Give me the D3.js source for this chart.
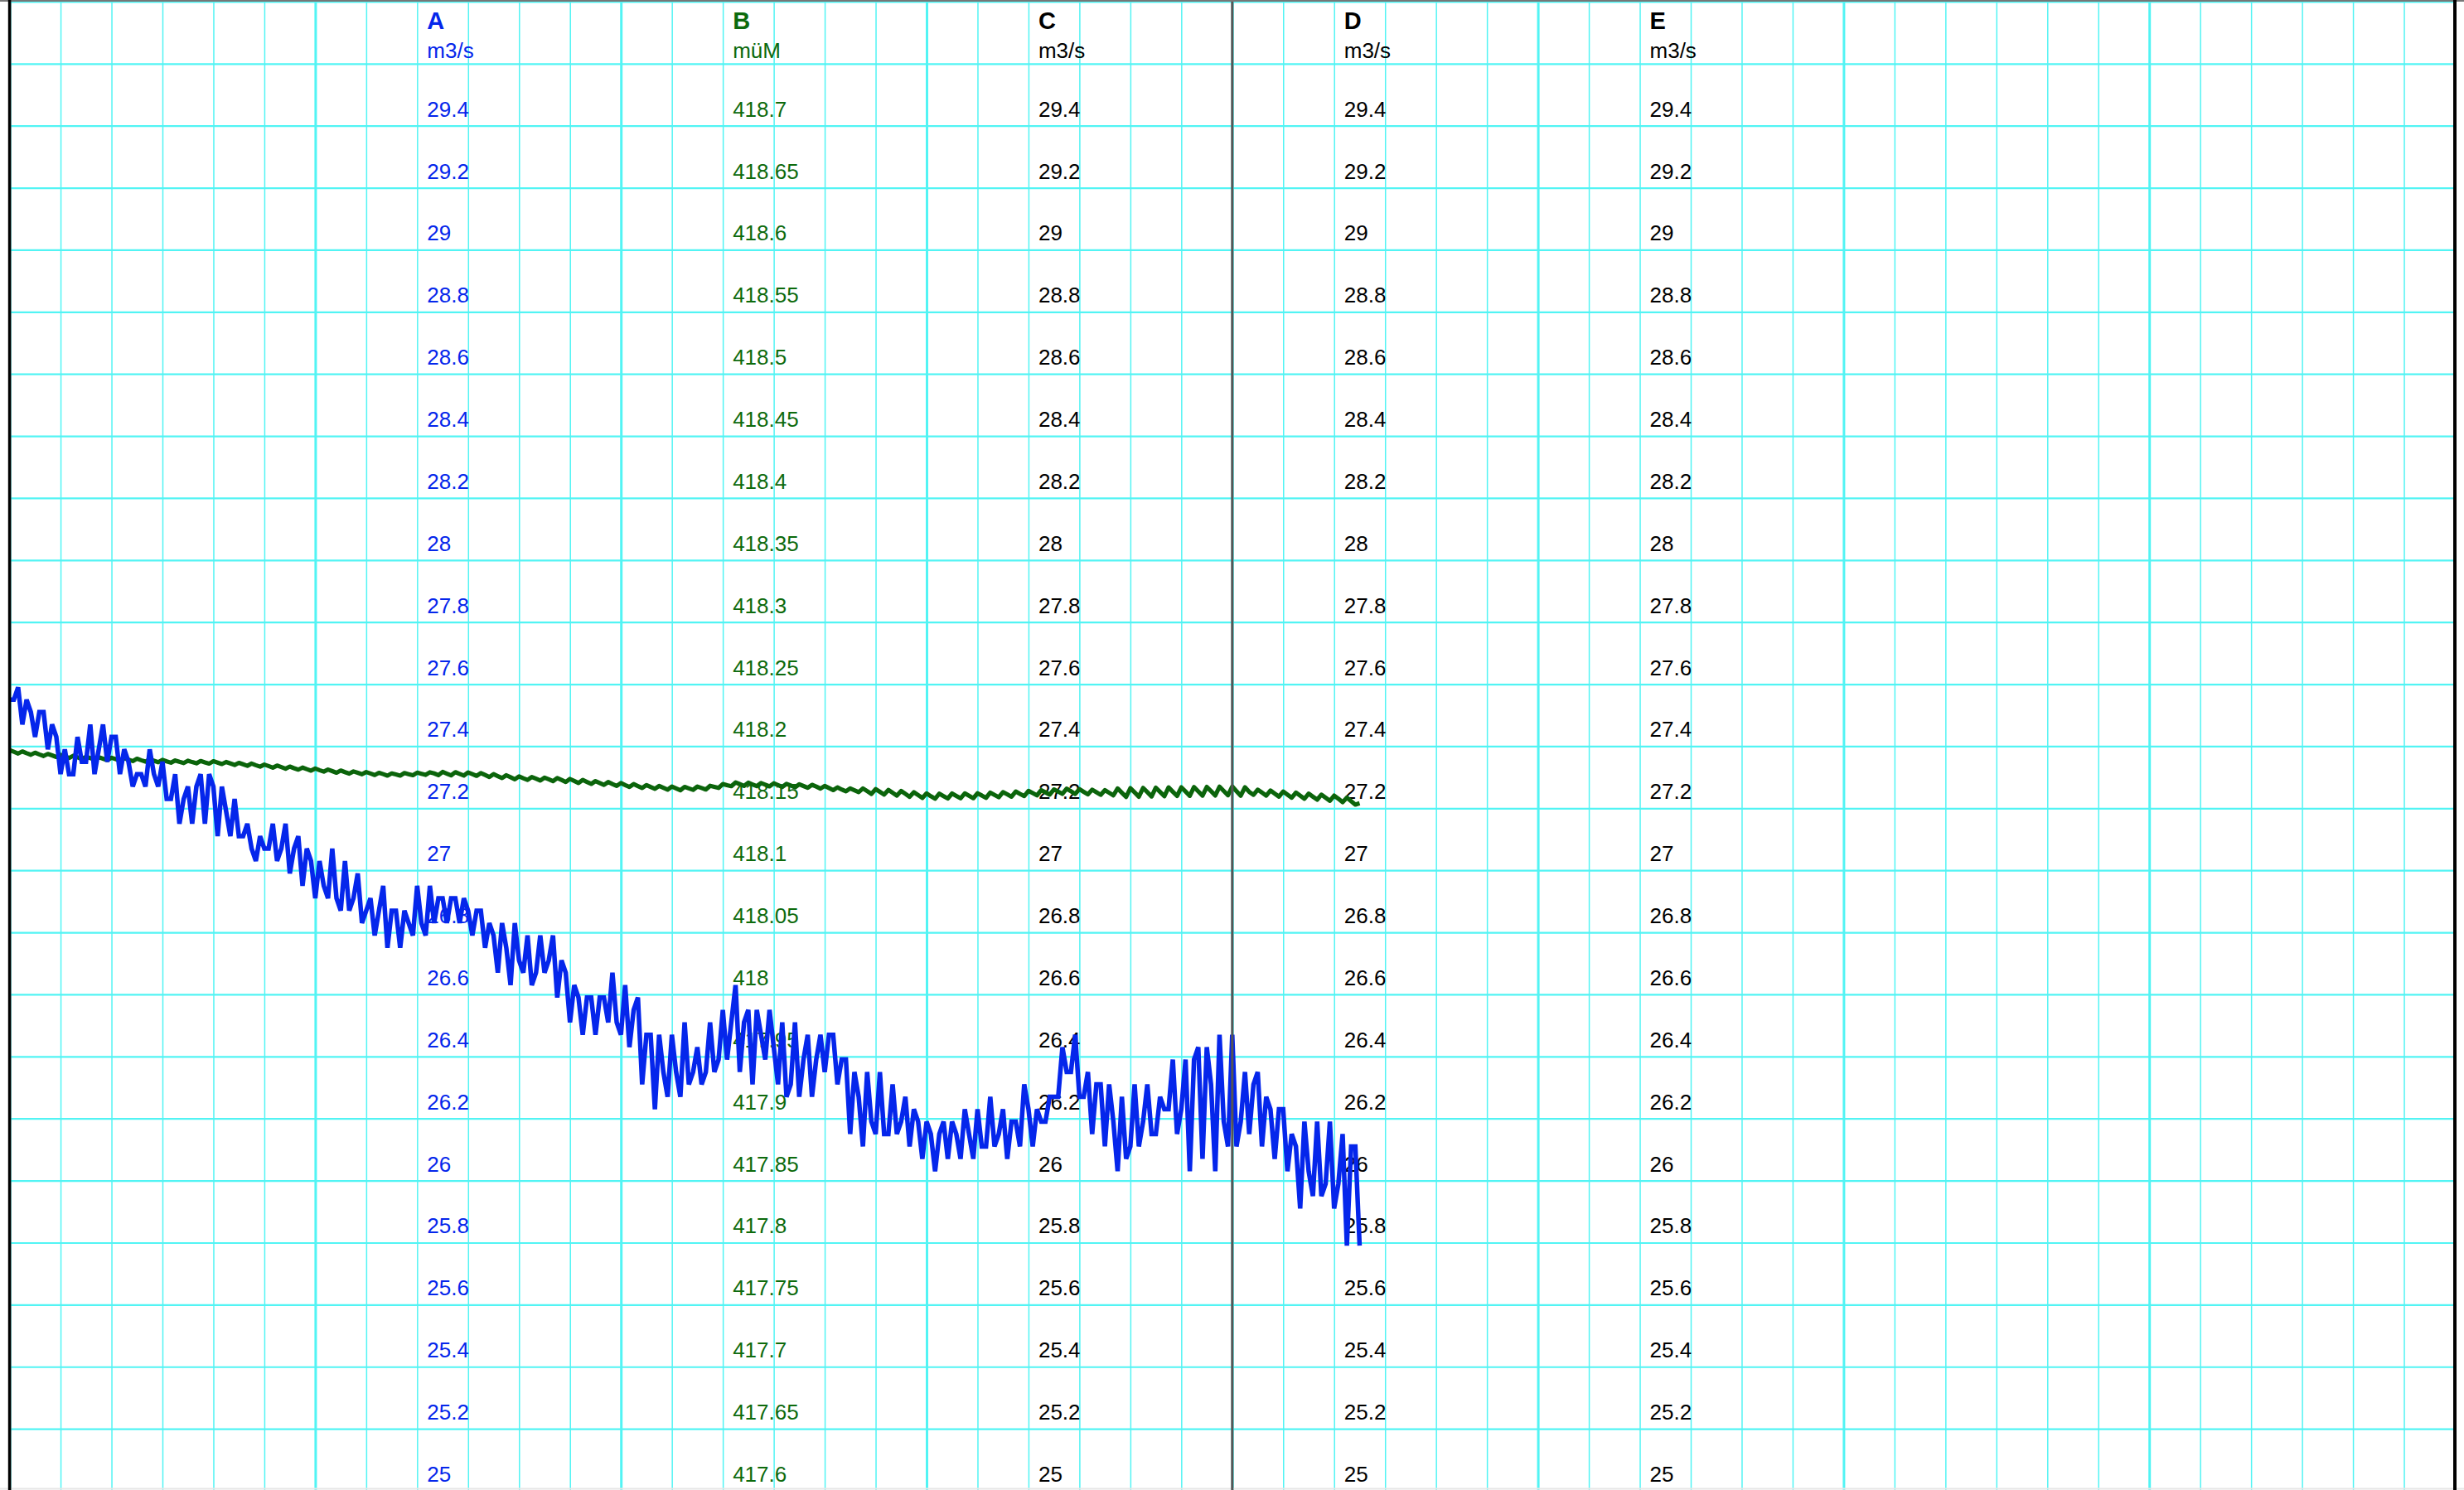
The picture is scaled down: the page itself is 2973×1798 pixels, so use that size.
<!DOCTYPE html>
<html>
<head>
<meta charset="utf-8">
<script src="https://cdn.jsdelivr.net/npm/d3@7"></script>
<style>
html,body{margin:0;padding:0;background:#fff;}
svg{display:block;}
</style>
</head>
<body>
<svg id="chart" width="2973" height="1798"></svg>
<script>
(function () {
// ---------- DATA ----------
const STEP_MINUTES = 5;          // sampling interval of both series
const SPAN_HOURS = 48;           // time span of the x axis
const NOW_HOUR = 24;             // dark vertical marker

// Series A (m3/s), one value every 5 minutes
const seriesA = [
27.55,27.55,27.59,27.47,27.55,27.51,27.43,27.51,27.51,27.39,
27.47,27.43,27.31,27.39,27.31,27.31,27.43,27.35,27.35,27.47,
27.31,27.39,27.47,27.35,27.43,27.43,27.31,27.39,27.35,27.27,
27.31,27.31,27.27,27.39,27.31,27.27,27.35,27.23,27.23,27.31,
27.15,27.23,27.27,27.15,27.27,27.31,27.15,27.31,27.27,27.11,
27.27,27.19,27.11,27.23,27.11,27.11,27.15,27.07,27.03,27.11,
27.07,27.07,27.15,27.03,27.07,27.15,26.99,27.07,27.11,26.95,
27.07,27.03,26.91,27.03,26.95,26.91,27.07,26.91,26.87,27.03,
26.87,26.91,26.99,26.83,26.87,26.91,26.79,26.87,26.95,26.75,
26.87,26.87,26.75,26.87,26.83,26.79,26.95,26.83,26.79,26.95,
26.83,26.91,26.91,26.83,26.91,26.91,26.83,26.91,26.87,26.79,
26.87,26.87,26.75,26.83,26.79,26.67,26.83,26.75,26.63,26.83,
26.71,26.67,26.79,26.63,26.67,26.79,26.67,26.71,26.79,26.59,
26.71,26.67,26.51,26.63,26.59,26.47,26.59,26.59,26.47,26.59,
26.59,26.51,26.67,26.51,26.47,26.63,26.43,26.55,26.59,26.31,
26.47,26.47,26.23,26.47,26.35,26.27,26.47,26.35,26.27,26.51,
26.31,26.35,26.43,26.31,26.35,26.51,26.35,26.39,26.55,26.39,
26.51,26.63,26.35,26.51,26.55,26.31,26.55,26.47,26.39,26.55,
26.43,26.31,26.51,26.27,26.31,26.51,26.27,26.39,26.47,26.27,
26.39,26.47,26.35,26.47,26.47,26.31,26.39,26.39,26.15,26.35,
26.27,26.11,26.35,26.19,26.15,26.35,26.15,26.15,26.31,26.15,
26.19,26.27,26.11,26.23,26.19,26.07,26.19,26.15,26.03,26.15,
26.19,26.07,26.19,26.15,26.07,26.23,26.15,26.07,26.23,26.11,
26.11,26.27,26.11,26.15,26.23,26.07,26.19,26.19,26.11,26.31,
26.23,26.11,26.23,26.19,26.19,26.27,26.27,26.27,26.43,26.35,
26.35,26.47,26.27,26.27,26.35,26.15,26.31,26.31,26.11,26.31,
26.19,26.03,26.27,26.07,26.11,26.31,26.11,26.19,26.31,26.15,
26.15,26.27,26.23,26.23,26.39,26.15,26.23,26.39,26.03,26.39,
26.43,26.07,26.43,26.31,26.03,26.47,26.19,26.11,26.47,26.11,
26.19,26.35,26.15,26.31,26.35,26.11,26.27,26.23,26.07,26.23,
26.23,26.03,26.15,26.11,25.91,26.19,26.03,25.95,26.19,25.95,
25.99,26.19,25.91,25.99,26.15,25.79,26.11,26.11,25.79
];

// Series B (müM), one value every 5 minutes
const seriesB = [
418.1968,418.1955,418.1941,418.1958,418.1944,418.1931,418.1948,418.1934,418.1921,418.1938,
418.1926,418.1913,418.1930,418.1918,418.1905,418.1923,418.1910,418.1897,418.1915,418.1904,
418.1892,418.1911,418.1900,418.1888,418.1907,418.1896,418.1884,418.1903,418.1892,418.1880,
418.1899,418.1887,418.1876,418.1894,418.1883,418.1871,418.1890,418.1878,418.1867,418.1885,
418.1874,418.1864,418.1883,418.1872,418.1862,418.1881,418.1870,418.1860,418.1879,418.1868,
418.1856,418.1873,418.1861,418.1849,418.1866,418.1854,418.1842,418.1860,418.1847,418.1835,
418.1852,418.1840,418.1827,418.1844,418.1832,418.1819,418.1836,418.1823,418.1811,418.1828,
418.1815,418.1803,418.1820,418.1807,418.1795,418.1812,418.1799,418.1786,418.1804,418.1791,
418.1779,418.1797,418.1786,418.1774,418.1792,418.1780,418.1768,418.1786,418.1775,418.1763,
418.1781,418.1772,418.1763,418.1784,418.1775,418.1766,418.1787,418.1778,418.1769,418.1790,
418.1781,418.1767,418.1793,418.1779,418.1765,418.1791,418.1777,418.1763,418.1789,418.1775,
418.1761,418.1784,418.1768,418.1752,418.1775,418.1759,418.1743,418.1766,418.1750,418.1734,
418.1757,418.1742,418.1728,418.1752,418.1738,418.1723,418.1747,418.1733,418.1718,418.1743,
418.1728,418.1712,418.1736,418.1720,418.1704,418.1728,418.1712,418.1696,418.1719,418.1704,
418.1688,418.1711,418.1695,418.1680,418.1703,418.1687,418.1672,418.1695,418.1679,418.1663,
418.1687,418.1671,418.1656,418.1680,418.1665,418.1650,418.1675,418.1660,418.1645,418.1672,
418.1660,418.1648,418.1675,418.1663,418.1651,418.1681,418.1673,418.1664,418.1695,418.1686,
418.1678,418.1708,418.1694,418.1680,418.1706,418.1692,418.1678,418.1703,418.1690,418.1676,
418.1701,418.1687,418.1672,418.1697,418.1683,418.1668,418.1693,418.1679,418.1665,418.1689,
418.1675,418.1658,418.1680,418.1663,418.1646,418.1668,418.1651,418.1636,418.1660,418.1645,
418.1630,418.1660,418.1638,418.1616,418.1654,418.1632,418.1610,418.1648,418.1625,418.1602,
418.1639,418.1616,418.1592,418.1629,418.1606,418.1583,418.1620,418.1597,418.1577,418.1618,
418.1598,418.1579,418.1619,418.1599,418.1580,418.1620,418.1600,418.1581,418.1621,418.1603,
418.1584,418.1626,418.1607,418.1589,418.1630,418.1612,418.1593,418.1635,418.1616,418.1598,
418.1640,418.1622,418.1604,418.1646,418.1628,418.1610,418.1652,418.1634,418.1616,418.1658,
418.1637,418.1615,418.1654,418.1633,418.1612,418.1650,418.1629,418.1608,418.1646,418.1625,
418.1604,418.1660,418.1625,418.1591,418.1662,418.1628,418.1593,418.1664,418.1630,418.1595,
418.1666,418.1632,418.1597,418.1668,418.1633,418.1599,418.1669,418.1635,418.1600,418.1671,
418.1636,418.1602,418.1672,418.1638,418.1603,418.1674,418.1639,418.1605,418.1675,418.1638,
418.1601,418.1669,418.1632,418.1608,418.1650,418.1626,418.1602,418.1643,418.1618,418.1594,
418.1635,418.1610,418.1585,418.1626,418.1602,418.1577,418.1618,418.1593,418.1569,418.1610,
418.1585,418.1560,418.1602,418.1577,418.1549,418.1586,418.1558,418.1529,418.1540
];

// Axis headers
const axisNames = ["A", "B", "C", "D", "E"];
const axisUnits = ["m3/s", "müM", "m3/s", "m3/s", "m3/s"];
const axisHours = [8, 14, 20, 26, 32];

// Tick labels
const flowTickLabels = ["29.4","29.2","29","28.8","28.6","28.4","28.2","28","27.8","27.6","27.4","27.2",
  "27","26.8","26.6","26.4","26.2","26","25.8","25.6","25.4","25.2","25"];
const levelTickLabels = ["418.7","418.65","418.6","418.55","418.5","418.45","418.4","418.35","418.3","418.25","418.2","418.15",
  "418.1","418.05","418","417.95","417.9","417.85","417.8","417.75","417.7","417.65","417.6"];

// ---------- STYLE / LAYOUT ----------
const W = 2973, H = 1798;
const pLeft = 11.6, pRight = 2962, pTop = 1.9, pBottom = 1799;
const gridColor = "#52f4f4";
const blue = "#0526eb", green = "#0b640b";
const axisColors = [blue, "#0d6a0d", "#000", "#000", "#000"];
const FONT = "'Liberation Sans', Arial, Helvetica, sans-serif";

const svg = d3.select("#chart");
svg.append("rect").attr("width", W).attr("height", H).attr("fill", "#fff");

const x = d3.scaleLinear().domain([0, SPAN_HOURS]).range([pLeft, pRight]);
const yFlow = d3.scaleLinear().domain([25, 29.8]).range([pBottom, pTop]);
const yLevel = d3.scaleLinear().domain([417.6, 418.8]).range([pBottom, pTop]);

// horizontal grid
const hGrid = svg.append("g")
  .attr("transform", `translate(${pLeft},0)`)
  .call(d3.axisLeft(yFlow).ticks(24).tickSize(-(pRight - pLeft)).tickFormat(""));
hGrid.select(".domain").remove();
hGrid.selectAll(".tick line").attr("stroke", gridColor).attr("stroke-width", 2.2);

// vertical grid
const hours = d3.range(0, SPAN_HOURS + 1);
const vGrid = svg.append("g")
  .attr("transform", `translate(0,${pBottom})`)
  .call(d3.axisBottom(x).tickValues(hours).tickSize(-(pBottom - pTop)).tickFormat(""));
vGrid.select(".domain").remove();
vGrid.selectAll(".tick line")
  .attr("stroke", gridColor)
  .attr("stroke-width", d => (d % 6 === 0 ? 3 : 1.5));

// faint bottom line
svg.append("line").attr("x1", 0).attr("x2", W).attr("y1", H - 1.5).attr("y2", H - 1.5)
  .attr("stroke", "#e6e6e6").attr("stroke-width", 2);

// y axes labels (value scales)
axisNames.forEach((name, k) => {
  const isLevel = k === 1;
  const labels = isLevel ? levelTickLabels : flowTickLabels;
  const scale = isLevel ? yLevel : yFlow;
  const ax0 = x(axisHours[k]);
  const g = svg.append("g")
    .attr("transform", `translate(${ax0},0)`)
    .call(d3.axisRight(scale)
      .tickValues(labels.map(Number))
      .tickSize(0).tickPadding(12)
      .tickFormat((d, i) => labels[i]));
  g.select(".domain").remove();
  g.attr("font-family", null).attr("font-size", null);
  g.selectAll(".tick text")
    .attr("dy", null)
    .attr("y", -11.5)
    .attr("fill", axisColors[k])
    .style("font-family", FONT)
    .style("font-size", "26px");

  svg.append("text")
    .attr("x", ax0 + 12).attr("y", 35)
    .attr("fill", axisColors[k])
    .style("font-family", FONT).style("font-size", "29px").style("font-weight", "bold")
    .text(name);
  svg.append("text")
    .attr("x", ax0 + 12).attr("y", 69.5)
    .attr("fill", axisColors[k])
    .style("font-family", FONT).style("font-size", "26px")
    .text(axisUnits[k]);
});

// data lines
const tHours = i => i * STEP_MINUTES / 60;
const lineB = d3.line().x((d, i) => x(tHours(i))).y(d => yLevel(d));
const lineA = d3.line().x((d, i) => x(tHours(i))).y(d => yFlow(d));

svg.append("path").datum(seriesB)
  .attr("d", lineB).attr("fill", "none")
  .attr("stroke", green).attr("stroke-width", 5.2).attr("stroke-linejoin", "round");

svg.append("path").datum(seriesA)
  .attr("d", lineA).attr("fill", "none")
  .attr("stroke", blue).attr("stroke-width", 5.5).attr("stroke-linejoin", "miter").attr("stroke-miterlimit", 3);

// now marker
svg.append("line")
  .attr("x1", x(NOW_HOUR)).attr("x2", x(NOW_HOUR))
  .attr("y1", pTop).attr("y2", H)
  .attr("stroke", "#555").attr("stroke-width", 3);

// frame
svg.append("line").attr("x1", 0).attr("x2", W).attr("y1", 1).attr("y2", 1)
  .attr("stroke", "#777").attr("stroke-width", 2);
svg.append("line").attr("x1", pLeft).attr("x2", pLeft).attr("y1", 0).attr("y2", H)
  .attr("stroke", "#000").attr("stroke-width", 3.6);
svg.append("line").attr("x1", pRight).attr("x2", pRight).attr("y1", 0).attr("y2", H)
  .attr("stroke", "#000").attr("stroke-width", 4);
})();
</script>
</body>
</html>
